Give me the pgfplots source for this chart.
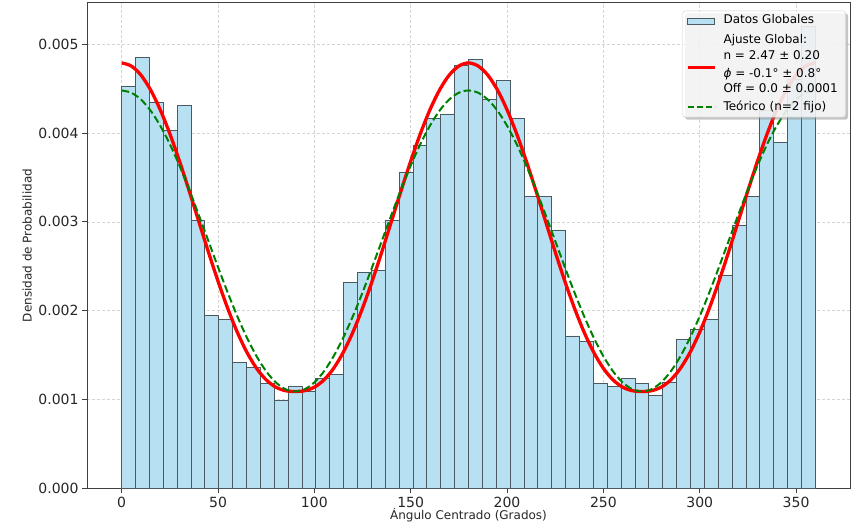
\documentclass[border=0pt]{standalone}
\usepackage{fontspec}
\setmainfont{DejaVu Sans}
\usepackage{pgfplots}
\usepackage{pgfplotstable}
\pgfplotsset{compat=1.18}
\usetikzlibrary{shadows}

\makeatletter
% keep the legend box's drop shadow off the legend samples
\tikzset{no shadow/.code={\let\tikz@preactions\pgfutil@empty}}
\makeatother

\definecolor{barfill}{RGB}{183,225,242}
\definecolor{baredge}{RGB}{75,90,97}
\definecolor{fitred}{RGB}{255,0,0}
\definecolor{teogreen}{RGB}{0,128,0}

% histogram: left bin edges (7.2 deg bins), density
\pgfplotstableread{
x y
0.0 0.004530
7.2 0.004854
14.4 0.004347
21.6 0.004027
28.8 0.004316
36.0 0.003018
43.2 0.001944
50.4 0.001903
57.6 0.001419
64.8 0.001363
72.0 0.001182
79.2 0.000991
86.4 0.001152
93.6 0.001096
100.8 0.001239
108.0 0.001284
115.2 0.002320
122.4 0.002432
129.6 0.002455
136.8 0.003021
144.0 0.003551
151.2 0.003866
158.4 0.004159
165.6 0.004215
172.8 0.004756
180.0 0.004831
187.2 0.004381
194.4 0.004590
201.6 0.004162
208.8 0.003284
216.0 0.003284
223.2 0.002909
230.4 0.001715
237.6 0.001659
244.8 0.001182
252.0 0.001152
259.2 0.001234
266.4 0.001178
273.6 0.001051
280.8 0.001194
288.0 0.001678
295.2 0.001791
302.4 0.001903
309.6 0.002402
316.8 0.002965
324.0 0.003284
331.2 0.004250
338.4 0.003896
345.6 0.004600
352.8 0.005200
360.0 0.005200
}\histdata

% fitted and theoretical curves, read every 5 deg
\pgfplotstableread{
x fit teo
0 0.004790 0.004480
5 0.004755 0.004454
10 0.004653 0.004378
15 0.004486 0.004253
20 0.004263 0.004083
25 0.003992 0.003875
30 0.003684 0.003633
35 0.003351 0.003365
40 0.003006 0.003079
45 0.002662 0.002785
50 0.002332 0.002491
55 0.002028 0.002205
60 0.001758 0.001938
65 0.001531 0.001696
70 0.001351 0.001487
75 0.001221 0.001317
80 0.001139 0.001192
85 0.001099 0.001116
90 0.001090 0.001090
95 0.001099 0.001116
100 0.001139 0.001192
105 0.001221 0.001317
110 0.001351 0.001487
115 0.001531 0.001696
120 0.001758 0.001938
125 0.002028 0.002205
130 0.002332 0.002491
135 0.002662 0.002785
140 0.003006 0.003079
145 0.003351 0.003365
150 0.003684 0.003633
155 0.003992 0.003875
160 0.004263 0.004083
165 0.004486 0.004253
170 0.004653 0.004378
175 0.004755 0.004454
180 0.004790 0.004480
185 0.004755 0.004454
190 0.004653 0.004378
195 0.004486 0.004253
200 0.004263 0.004083
205 0.003992 0.003875
210 0.003684 0.003633
215 0.003351 0.003365
220 0.003006 0.003079
225 0.002662 0.002785
230 0.002332 0.002491
235 0.002028 0.002205
240 0.001758 0.001938
245 0.001531 0.001696
250 0.001351 0.001487
255 0.001221 0.001317
260 0.001139 0.001192
265 0.001099 0.001116
270 0.001090 0.001090
275 0.001099 0.001116
280 0.001139 0.001192
285 0.001221 0.001317
290 0.001351 0.001487
295 0.001531 0.001696
300 0.001758 0.001938
305 0.002028 0.002205
310 0.002332 0.002491
315 0.002662 0.002785
320 0.003006 0.003079
325 0.003351 0.003365
330 0.003684 0.003633
335 0.003992 0.003875
340 0.004263 0.004083
345 0.004486 0.004253
350 0.004653 0.004378
355 0.004755 0.004454
360 0.004790 0.004480
}\curvedata

\begin{document}
\begin{tikzpicture}
\begin{axis}[
    scale only axis,
    width=763bp, height=485.6bp,
    xmin=-18, xmax=378,
    ymin=0, ymax=0.005468,
    xtick={0,50,...,350},
    ytick={0,0.001,0.002,0.003,0.004,0.005},
    scaled y ticks=false,
    yticklabel style={/pgf/number format/.cd, fixed, fixed zerofill, precision=3},
    /pgf/number format/assume math mode=true,
    ticklabel style={font=\fontsize{14bp}{16bp}\selectfont, text=black!85},
    tick align=outside,
    xtick pos=lower, ytick pos=left,
    major tick length=5bp,
    tick style={black!75, line width=0.9bp},
    axis line style={black!75, line width=0.9bp},
    grid=major,
    major grid style={black!17, line width=0.7bp, dash pattern=on 3bp off 2bp},
    xlabel={Ángulo Centrado (Grados)},
    ylabel={Densidad de Probabilidad},
    every axis x label/.style={at={(axis description cs:0.5,-0.056)}, anchor=center,
        font=\fontsize{12bp}{14bp}\selectfont, text=black!85},
    every axis y label/.style={at={(axis description cs:-0.0786,0.5)}, rotate=90, anchor=center,
        font=\fontsize{12bp}{14bp}\selectfont, text=black!85},
    legend cell align=left,
    legend style={
        at={(rel axis cs:0.99436,0.9835)}, anchor=north east,
        draw=black!20, rounded corners=2.5bp,
        fill=white, fill opacity=0.8, text opacity=1,
        drop shadow={shadow xshift=2.5bp, shadow yshift=-2.5bp, fill=black!45, opacity=0.5},
        font=\fontsize{12bp}{14bp}\selectfont,
        inner xsep=3.3bp, inner ysep=4bp,
        row sep=3.8bp, column sep=3bp,
        nodes={inner xsep=4.5bp, inner ysep=0bp, text height=9bp, text depth=3bp},
    },
]

\addplot[ybar interval, fill=barfill, draw=baredge, line width=0.9bp, forget plot]
    table[x=x, y=y] {\histdata};
\addplot[fitred, line width=3.3bp, smooth, forget plot]
    table[x=x, y=fit] {\curvedata};
\addplot[teogreen, line width=2bp, dash pattern=on 7.5bp off 3.3bp, smooth, forget plot]
    table[x=x, y=teo] {\curvedata};

% legend rows
\addlegendimage{legend image code/.code={\draw[no shadow, sharp corners, fill=barfill, fill opacity=1, draw=baredge, line width=0.8bp] (0bp,-3bp) rectangle (27bp,3bp);}}
\addlegendentry{Datos Globales}
\addlegendimage{empty legend}
\addlegendentry[text height=12.5bp]{Ajuste Global:}
\addlegendimage{empty legend}
\addlegendentry{n = 2.47 ± 0.20}
\addlegendimage{legend image code/.code={\draw[no shadow, sharp corners, fitred, line width=3bp] (0bp,6.7bp) -- (27bp,6.7bp);}}
\addlegendentry{{\itshape ϕ} = -0.1° ± 0.8°}
\addlegendimage{empty legend}
\addlegendentry[text depth=4.5bp]{Off = 0.0 ± 0.0001}
\addlegendimage{legend image code/.code={\draw[no shadow, sharp corners, teogreen, line width=2bp, dash pattern=on 6bp off 3bp] (0bp,0bp) -- (27bp,0bp);}}
\addlegendentry{Teórico (n=2 fijo)}

\end{axis}
\pgfresetboundingbox
\path[use as bounding box] (-87bp,-42.7bp) rectangle (769bp,488.3bp);
\end{tikzpicture}
\end{document}
